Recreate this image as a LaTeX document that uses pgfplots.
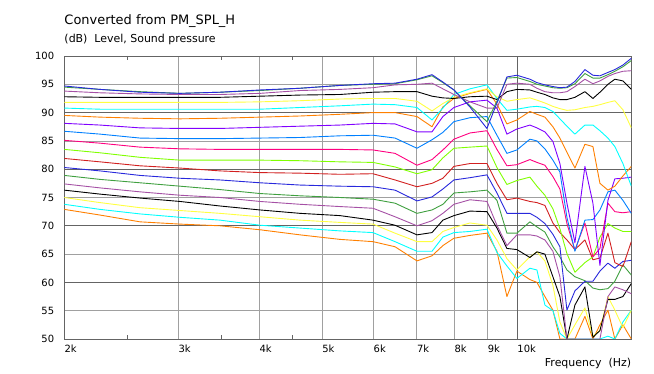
\documentclass[border=0pt]{standalone}
\usepackage{pgfplots}
\pgfplotsset{compat=1.18}
\usepackage{pgfplotstable}
\usepackage{fontspec}
\setmainfont{DejaVu Sans}

\definecolor{cBlue}{RGB}{40,40,220}
\definecolor{cGreen}{RGB}{64,160,64}
\definecolor{cPurple}{RGB}{165,80,165}
\definecolor{cBlack}{RGB}{0,0,0}
\definecolor{cYellow}{RGB}{255,255,64}
\definecolor{cCyan}{RGB}{0,255,255}
\definecolor{cOrange}{RGB}{255,128,0}
\definecolor{cViolet}{RGB}{128,0,255}
\definecolor{cAzure}{RGB}{0,128,255}
\definecolor{cRose}{RGB}{255,0,128}
\definecolor{cLime}{RGB}{128,255,0}
\definecolor{cRed}{RGB}{210,32,32}
\definecolor{gridL}{RGB}{160,160,160}
\definecolor{gridD}{RGB}{100,100,100}

\pgfplotstableread{
f c1 c2 c3 c4 c5 c6 c7 c8 c9 c10 c11 c12 c13 c14 c15 c16 c17 c18 c19
2000 94.7 94.5 93.8 92.8 91.8 90.8 89.5 88.1 86.7 85.1 83.5 81.9 80.3 78.9 77.4 76.3 75.0 73.8 72.9
2270 94.1 94.1 93.5 92.7 91.8 90.6 89.2 87.8 86.2 84.6 82.9 81.3 79.7 78.2 76.7 75.6 74.1 72.9 71.9
2617 93.6 93.7 93.3 92.7 91.8 90.6 89.0 87.3 85.5 83.9 82.1 80.6 78.9 77.6 76.0 74.9 73.2 72.1 70.7
3017 93.4 93.4 93.2 92.7 91.8 90.6 88.9 87.2 85.4 83.6 81.6 80.2 78.4 77.0 75.4 74.3 72.7 71.5 70.3
3478 93.6 93.6 93.2 92.7 91.8 90.6 89.0 87.2 85.4 83.5 81.6 79.7 78.1 76.4 75.0 73.5 72.2 71.0 70.0
4009 94.0 93.9 93.4 92.9 91.9 90.6 89.2 87.4 85.5 83.5 81.6 79.4 77.6 75.7 74.3 72.8 71.6 70.1 69.3
4621 94.3 94.3 93.9 93.1 92.1 90.9 89.4 87.6 85.6 83.5 81.5 79.3 77.2 75.3 73.8 72.2 71.0 69.6 68.4
5326 94.8 94.8 94.1 93.2 92.4 91.2 89.7 87.8 85.9 83.5 81.3 79.1 77.0 75.0 73.4 71.8 70.6 69.1 67.6
5990 95.1 95.0 94.4 93.6 92.5 91.5 90.0 88.1 86.0 83.4 81.2 79.2 76.9 74.7 73.1 71.0 70.3 68.8 67.2
6477 95.2 95.1 94.9 93.7 92.5 91.4 90.0 88.0 85.5 82.8 80.4 78.1 76.3 74.0 71.6 70.1 68.7 67.2 66.3
7003 95.9 95.8 95.0 93.7 92.0 90.9 89.3 86.6 83.7 80.7 79.2 76.9 74.4 72.2 70.0 68.4 67.2 65.5 63.8
7387 96.7 96.5 95.2 92.9 90.3 88.7 87.5 86.6 85.2 81.7 79.9 77.5 75.1 72.8 70.9 68.8 67.2 65.5 64.7
7679 95.4 95.3 94.2 92.6 91.6 90.8 91.0 89.3 86.5 83.4 82.0 78.4 76.5 73.8 72.2 71.0 69.0 68.0 66.5
7986 94.0 94.0 93.2 92.5 92.7 93.2 92.5 90.9 88.4 85.3 83.7 80.5 78.1 75.8 73.8 71.8 69.7 68.8 67.8
8453 91.0 91.2 91.9 92.8 93.5 94.2 93.4 91.9 89.1 86.4 83.9 81.0 78.5 76.0 74.6 72.6 70.5 69.0 68.3
8979 87.2 88.4 90.8 92.9 94.2 94.9 94.1 92.2 89.3 86.8 84.1 81.0 79.0 76.3 74.3 72.5 70.1 69.4 68.7
9304 91.7 92.0 90.8 92.3 92.8 92.5 91.5 90.8 86.0 83.5 80.3 77.5 75.8 74.5 70.1 69.6 67.5 65.3 65.5
9640 96.3 96.1 95.0 93.7 92.0 90.4 88.0 86.2 82.8 80.6 77.3 74.6 72.2 68.7 66.5 66.0 64.2 62.9 57.5
9988 96.6 96.2 95.2 94.1 92.3 90.6 88.7 87.1 83.4 80.8 78.0 74.9 72.2 68.7 68.4 65.8 62.2 60.7 62.0
10461 95.9 95.5 95.0 94.0 92.6 91.0 90.2 87.8 85.3 81.7 78.6 74.3 72.2 70.7 68.4 64.4 64.5 62.5 60.5
10725 95.3 95.0 94.3 93.6 92.2 91.1 89.7 87.3 85.0 81.2 77.0 74.1 71.5 69.8 68.2 65.4 65.4 62.2 60.0
11033 94.9 94.7 93.7 93.2 91.7 90.9 89.2 86.6 83.6 80.7 75.4 73.6 70.4 68.9 67.5 65.0 63.8 56.0 57.5
11351 94.6 94.4 93.5 92.6 91.1 90.2 87.5 84.9 81.6 78.7 73.0 70.5 68.5 66.3 65.5 61.0 59.5 55.0 55.1
11637 94.4 94.3 93.5 92.3 90.7 88.9 85.5 81.0 79.5 76.5 69.5 68.8 66.3 64.5 61.0 57.5 53.0 51.0 50.0
11931 94.5 94.4 93.7 92.3 90.4 87.6 83.0 74.0 71.5 70.4 65.1 67.5 55.1 62.2 50.0 50.0 50.0 50.0 50.0
12275 95.5 95.1 94.6 92.7 90.5 86.2 80.2 67.0 65.5 65.7 61.8 65.8 58.5 61.0 50.0 56.0 52.5 50.0 50.0
12719 97.6 96.9 95.9 93.7 90.9 87.8 84.4 80.5 71.0 70.5 63.5 67.5 60.2 60.3 50.0 59.2 55.5 50.0 54.0
13086 96.6 96.1 95.1 92.5 91.1 87.8 84.0 74.0 71.1 64.5 64.5 64.0 60.2 59.0 50.0 50.3 50.5 50.0 50.0
13416 96.5 96.1 95.6 93.6 91.4 86.8 77.5 63.0 72.8 66.0 68.0 64.3 62.0 58.7 50.0 51.5 51.5 50.0 52.5
13804 97.1 96.7 96.4 95.0 91.8 85.5 76.3 74.5 76.0 74.0 70.4 68.7 63.4 58.9 57.5 57.0 57.5 50.5 55.1
14147 97.6 97.3 96.9 95.9 92.1 84.0 77.0 78.3 76.3 72.5 69.6 63.5 62.5 60.2 59.2 57.0 55.1 50.0 50.0
14557 98.4 98.1 97.3 95.6 90.5 81.0 78.8 78.4 74.5 72.3 69.0 62.8 63.7 63.1 58.7 57.5 52.0 53.0 52.5
15000 99.6 99.2 97.4 94.1 87.3 77.0 80.5 78.6 72.2 72.5 69.0 67.2 63.9 61.3 58.0 59.8 55.1 55.1 50.0
}\spl

\pgfplotsset{crv/.style={line width=0.9pt, mark=none, line join=round}}

\begin{document}
\begin{tikzpicture}
\useasboundingbox (-64.3bp,-35bp) rectangle (589.7bp,339bp);
\fill[white] (-64.3bp,-35bp) rectangle (589.7bp,339bp);
\begin{axis}[
  scale only axis, width=567bp, height=283bp,
  xmode=log, xmin=2000, xmax=15000, ymin=50, ymax=100,
  xtick={2000,3000,4000,5000,6000,7000,8000,9000,10000},
  xticklabels={2k,3k,4k,5k,6k,7k,8k,9k,10k},
  minor xtick={2500,3500,4500},
  ytick={50,55,...,100},
  extra y ticks={60,70,80,90}, extra y tick labels={},
  extra y tick style={grid=major, major grid style={color=gridD, line width=0.8pt}},
  extra x ticks={10000}, extra x tick labels={},
  extra x tick style={grid=major, major grid style={color=gridD, line width=0.8pt}},
  xmajorgrids, ymajorgrids,
  major grid style={color=gridL, line width=0.8pt},
  major tick length=0pt, minor tick length=4bp,
  tick align=inside, xtick pos=both, ytick pos=left,
  minor tick style={color=gridD, line width=0.8pt},
  axis line style={color=gridD, line width=0.8pt},
  /pgf/number format/assume math mode=true,
  xticklabel style={anchor=west, inner sep=0pt, yshift=-10bp, font=\fontsize{10}{12}\selectfont},
  yticklabel style={anchor=east, inner sep=0pt, xshift=-10bp, font=\fontsize{10}{12}\selectfont},
]
\addplot[crv, cOrange] table[x=f, y=c19] {\spl};
\addplot[crv, cCyan]   table[x=f, y=c18] {\spl};
\addplot[crv, cYellow] table[x=f, y=c17] {\spl};
\addplot[crv, cBlack]  table[x=f, y=c16] {\spl};
\addplot[crv, cPurple] table[x=f, y=c15] {\spl};
\addplot[crv, cGreen]  table[x=f, y=c14] {\spl};
\addplot[crv, cBlue]   table[x=f, y=c13] {\spl};
\addplot[crv, cRed]    table[x=f, y=c12] {\spl};
\addplot[crv, cLime]   table[x=f, y=c11] {\spl};
\addplot[crv, cRose]   table[x=f, y=c10] {\spl};
\addplot[crv, cAzure]  table[x=f, y=c9] {\spl};
\addplot[crv, cViolet] table[x=f, y=c8] {\spl};
\addplot[crv, cOrange] table[x=f, y=c7] {\spl};
\addplot[crv, cCyan]   table[x=f, y=c6] {\spl};
\addplot[crv, cYellow] table[x=f, y=c5] {\spl};
\addplot[crv, cBlack]  table[x=f, y=c4] {\spl};
\addplot[crv, cPurple] table[x=f, y=c3] {\spl};
\addplot[crv, cGreen]  table[x=f, y=c2] {\spl};
\addplot[crv, cBlue]   table[x=f, y=c1] {\spl};
\end{axis}
\node[anchor=west, inner sep=0pt, font=\fontsize{13}{15}\selectfont] at (0bp,318bp) {Converted from PM\_SPL\_H};
\node[anchor=west, inner sep=0pt, font=\fontsize{11}{13}\selectfont] at (0bp,300bp) {(dB)\ \ Level, Sound pressure};
\node[anchor=east, inner sep=0pt, font=\fontsize{11}{13}\selectfont] at (567bp,-24bp) {Frequency\ \ (Hz)};
\end{tikzpicture}
\end{document}
